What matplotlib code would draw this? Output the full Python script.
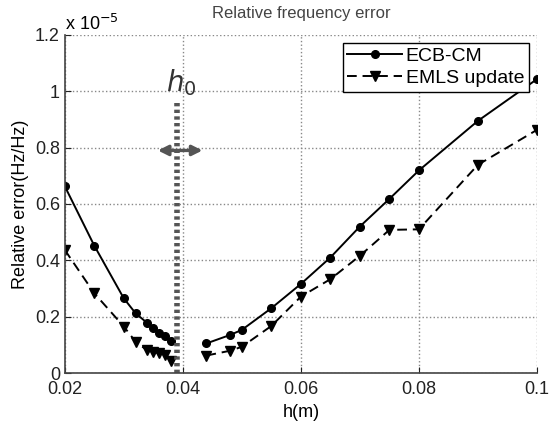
import matplotlib
matplotlib.use('Agg')
import matplotlib.pyplot as plt

plt.rcParams['font.family'] = 'Liberation Sans'

# data (values in units of 1e-5)
h_left = [0.02, 0.025, 0.03, 0.032, 0.034, 0.035, 0.036, 0.037, 0.038]
h_right = [0.044, 0.048, 0.05, 0.055, 0.06, 0.065, 0.07, 0.075, 0.08, 0.09, 0.1]
ecb_left = [0.663, 0.452, 0.265, 0.212, 0.177, 0.158, 0.143, 0.13, 0.114]
ecb_right = [0.105, 0.135, 0.153, 0.23, 0.316, 0.41, 0.52, 0.618, 0.719, 0.895, 1.043]
emls_left = [0.437, 0.283, 0.165, 0.111, 0.08, 0.075, 0.07, 0.065, 0.042]
emls_right = [0.062, 0.079, 0.093, 0.167, 0.271, 0.333, 0.416, 0.508, 0.51, 0.739, 0.863]
h0 = 0.039

fig = plt.figure(figsize=(5.49, 4.21), dpi=100)
ax = fig.add_axes([0.118, 0.114, 0.86, 0.803])

ax.plot(h_left, ecb_left, 'k-', marker='o', ms=5.5, lw=1.4, label='ECB-CM')
ax.plot(h_right, ecb_right, 'k-', marker='o', ms=5.5, lw=1.4)
ax.plot(h_left, emls_left, 'k--', marker='v', ms=7.5, lw=1.4, dashes=(5, 3), label='EMLS update')
ax.plot(h_right, emls_right, 'k--', marker='v', ms=7.5, lw=1.4, dashes=(5, 3))

# h0 marker
ax.plot([h0, h0], [0, 0.96], color='#555555', lw=4, ls=(0, (0.6, 0.6)))
ax.annotate('', xy=(0.0353, 0.79), xytext=(0.0438, 0.79),
            arrowprops=dict(arrowstyle='<|-|>', color='#555555', lw=2.4,
                            mutation_scale=15))
ax.text(0.0397, 1.03, r'$h_0$', fontsize=20, color='#333333',
        ha='center', va='center', family='DejaVu Serif')

ax.set_xlim(0.02, 0.1)
ax.set_ylim(0, 1.2)
ax.set_xticks([0.02, 0.04, 0.06, 0.08, 0.1])
ax.set_xticklabels(['0.02', '0.04', '0.06', '0.08', '0.1'])
ax.set_yticks([0, 0.2, 0.4, 0.6, 0.8, 1.0, 1.2])
ax.set_yticklabels(['0', '0.2', '0.4', '0.6', '0.8', '1', '1.2'])
ax.tick_params(direction='in', length=4, labelsize=13, colors='#222222')
ax.tick_params(axis='x', pad=6)
ax.grid(True, ls=':', color='#888888', lw=1)
ax.spines['top'].set_visible(False)
ax.spines['right'].set_visible(False)
for s in ['left', 'bottom']:
    ax.spines[s].set_color('#444444')
    ax.spines[s].set_linewidth(1.2)

ax.text(0.0, 1.003, r'x 10$^{-5}$', transform=ax.transAxes,
        fontsize=13, ha='left', va='bottom')
ax.set_title('Relative frequency error', fontsize=12, color='#444444', pad=12)
ax.set_xlabel('h(m)', fontsize=13, labelpad=4)
ax.set_ylabel('Relative error(Hz/Hz)', fontsize=13, labelpad=4)

leg = ax.legend(loc='upper right', fontsize=14, fancybox=False, framealpha=1,
                edgecolor='black', borderpad=0.25, handlelength=2.8,
                handletextpad=0.2, labelspacing=0.2, borderaxespad=0.4)
leg.get_frame().set_linewidth(1.0)

fig.savefig('out.png', dpi=100)
